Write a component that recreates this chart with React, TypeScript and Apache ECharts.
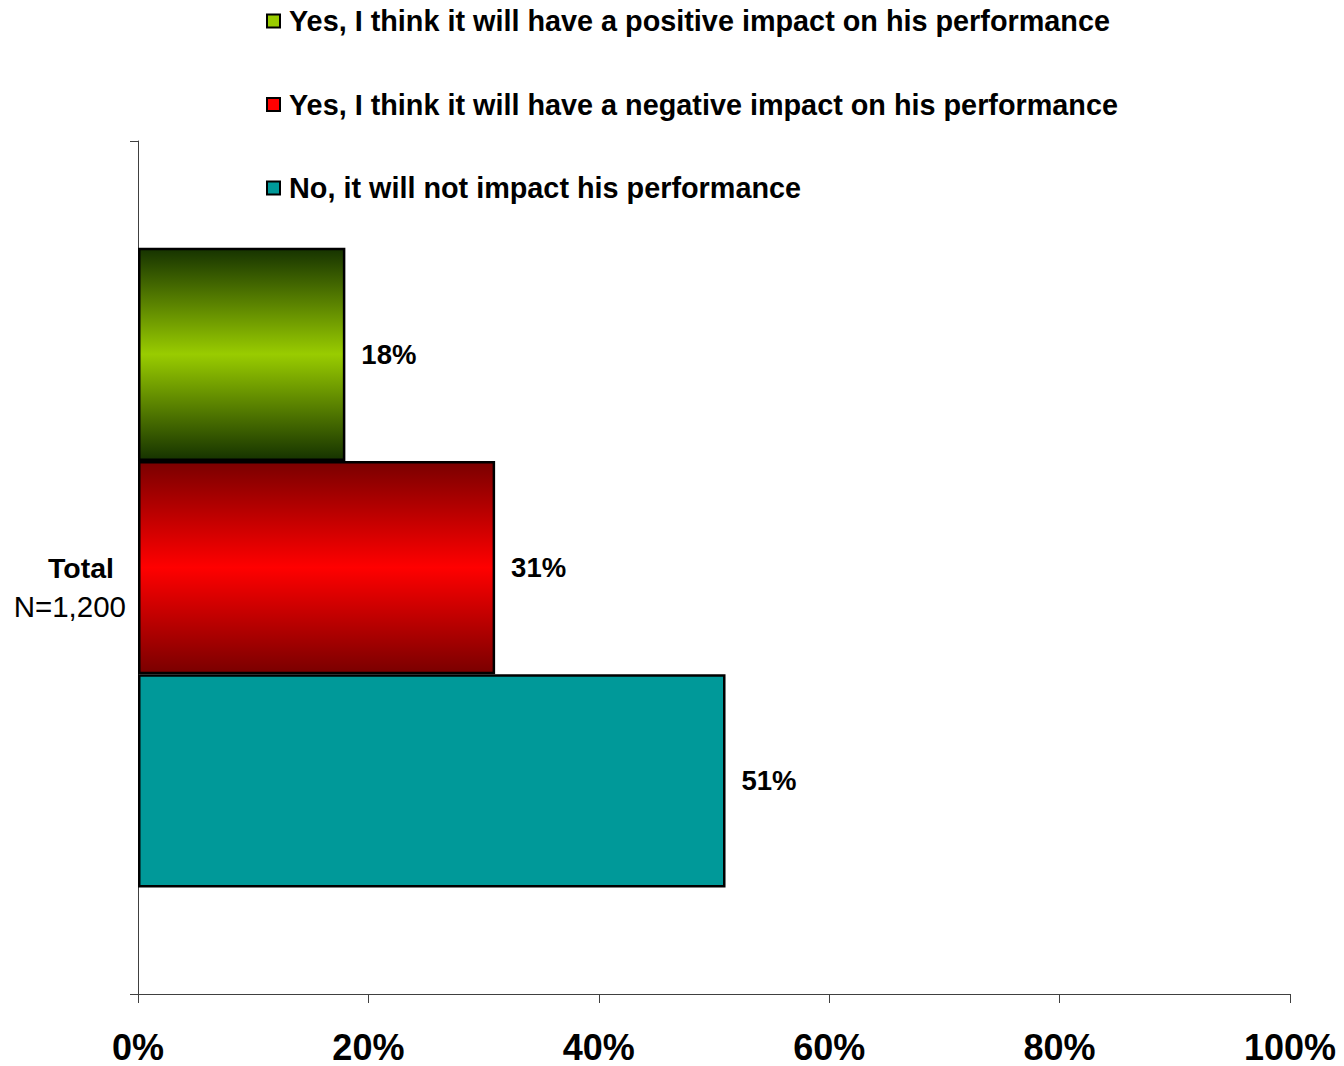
import React, { useEffect, useRef } from "react";
import * as echarts from "echarts";

const categories = ["Total"];
const seriesNames = [
  "Yes, I think it will have a positive impact on his performance",
  "Yes, I think it will have a negative impact on his performance",
  "No, it will not impact his performance",
];
const positiveValues = [18];
const negativeValues = [31];
const noImpactValues = [51];
const xTicks = [0, 20, 40, 60, 80, 100];

const FONT = 'Arial, "Liberation Sans", sans-serif';

export default function App() {
  const ref = useRef<HTMLDivElement>(null);
  useEffect(() => {
    document.body.style.margin = "0";
    const chart = echarts.init(ref.current!, null, { renderer: "svg" });
    const grad = (edge: string, mid: string) =>
      new echarts.graphic.LinearGradient(0, 0, 0, 1, [
        { offset: 0, color: edge },
        { offset: 0.5, color: mid },
        { offset: 1, color: edge },
      ]);
    const labelOpt = {
      show: true,
      position: "right",
      distance: 16,
      formatter: "{c}%",
      color: "#000",
      fontWeight: "bold",
      fontSize: 27.5,
      fontFamily: FONT,
    };
    const border = { borderColor: "#000", borderWidth: 2.5 };
    chart.setOption({
      animation: false,
      backgroundColor: "#fff",
      legend: {
        orient: "vertical",
        left: 266,
        top: 6.5,
        padding: 0,
        itemWidth: 13,
        itemHeight: 13,
        itemGap: 54.5,
        icon: "rect",
        selectedMode: false,
        textStyle: {
          color: "#000",
          fontWeight: "bold",
          fontSize: 28.8,
          fontFamily: FONT,
          padding: [0, 0, 0, 4],
        },
        data: [
          { name: seriesNames[0], itemStyle: { color: "#99cc00", borderColor: "#000", borderWidth: 2 } },
          { name: seriesNames[1], itemStyle: { color: "#ff0000", borderColor: "#000", borderWidth: 2 } },
          { name: seriesNames[2], itemStyle: { color: "#009999", borderColor: "#000", borderWidth: 2 } },
        ],
      },
      grid: { left: 138, right: 54, top: 141, bottom: 72 },
      xAxis: {
        type: "value",
        min: 0,
        max: 100,
        interval: 20,
        splitLine: { show: false },
        axisLine: { show: true, lineStyle: { color: "#404040", width: 1 } },
        axisTick: { show: true, length: 9, lineStyle: { color: "#404040" } },
        axisLabel: {
          formatter: (v: number) => (xTicks.includes(v) ? v + "%" : ""),
          color: "#000",
          fontWeight: "bold",
          fontSize: 36,
          fontFamily: FONT,
          margin: 35,
        },
      },
      yAxis: {
        type: "category",
        data: categories,
        axisLine: { show: true, lineStyle: { color: "#404040", width: 1 } },
        axisTick: { show: true, length: 8, alignWithLabel: false, lineStyle: { color: "#404040" } },
        axisLabel: {
          margin: 12,
          padding: [39, 0, 0, 0],
          formatter: (v: string) => `{b|${v}}\n{n|N=1,200}`,
          rich: {
            b: {
              fontWeight: "bold",
              fontSize: 28.5,
              fontFamily: FONT,
              color: "#000",
              lineHeight: 39,
              padding: [0, 12, 0, 0],
            },
            n: {
              fontSize: 29.5,
              fontFamily: FONT,
              color: "#000",
              lineHeight: 39,
            },
          },
        },
      },
      series: [
        {
          name: seriesNames[0],
          type: "bar",
          data: positiveValues,
          barWidth: "25%",
          barGap: "0%",
          itemStyle: { color: grad("#163300", "#99cc00"), ...border },
          label: labelOpt,
        },
        {
          name: seriesNames[1],
          type: "bar",
          data: negativeValues,
          barWidth: "25%",
          barGap: "0%",
          itemStyle: { color: grad("#7a0000", "#ff0000"), ...border },
          label: labelOpt,
        },
        {
          name: seriesNames[2],
          type: "bar",
          data: noImpactValues,
          barWidth: "25%",
          barGap: "0%",
          itemStyle: { color: "#009999", ...border },
          label: labelOpt,
        },
      ],
    });
    return () => chart.dispose();
  }, []);
  return <div ref={ref} style={{ width: 1344, height: 1066 }} />;
}
